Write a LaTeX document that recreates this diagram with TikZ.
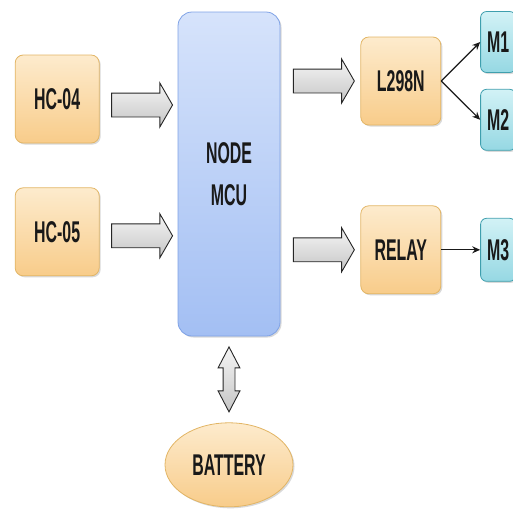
\documentclass[tikz,border=0pt]{standalone}
\usepackage{fontspec}
\setsansfont{Liberation Sans}[FakeStretch=0.53]
\usetikzlibrary{positioning, calc, arrows.meta, shapes.geometric, shapes.arrows, shadows}
\definecolor{NaranjaArriba}{HTML}{FDEBCD}
\definecolor{NaranjaAbajo}{HTML}{F8CC8A}
\definecolor{NaranjaBorde}{HTML}{E2B565}
\definecolor{AzulArriba}{HTML}{D6E3FB}
\definecolor{AzulAbajo}{HTML}{A3BFF3}
\definecolor{AzulBorde}{HTML}{7FA2E6}
\definecolor{CianArriba}{HTML}{D2F2F6}
\definecolor{CianAbajo}{HTML}{96D8E3}
\definecolor{CianBorde}{HTML}{3F9FAE}

\begin{document}
\begin{tikzpicture}[
    >={Stealth[length=8pt, width=7pt]}, % puntas de los conectores finos
    texto/.style={font=\sffamily\bfseries\fontsize{30}{42}\selectfont, text=black!90, align=center},
    sombra/.style={drop shadow={shadow xshift=1.5pt, shadow yshift=-1.5pt, opacity=0.25, fill=black!60}},
    bloque_naranja/.style={texto, sombra, draw=NaranjaBorde, line width=0.8pt, top color=NaranjaArriba, bottom color=NaranjaAbajo, rounded corners=8pt, minimum width=84pt, minimum height=88pt, inner sep=0pt},
    bloque_azul/.style={texto, sombra, draw=AzulBorde, line width=0.8pt, top color=AzulArriba, bottom color=AzulAbajo, rounded corners=14pt, minimum width=102pt, minimum height=324pt, inner sep=0pt},
    bloque_cian/.style={texto, sombra, draw=CianBorde, line width=0.8pt, top color=CianArriba, bottom color=CianAbajo, rounded corners=6pt, minimum width=35pt, minimum height=61pt, inner sep=0pt},
    flecha_gorda/.style={shape=single arrow, draw=black!85, line width=0.9pt, top color=gray!8, bottom color=gray!45, minimum height=61pt, inner xsep=0pt, inner ysep=11.5pt, text height=0pt, text depth=0pt, single arrow head extend=10pt, single arrow tip angle=120},
    flecha_doble/.style={shape=double arrow, rotate=90, draw=black!85, line width=0.9pt, top color=gray!8, bottom color=gray!45, minimum height=65pt, inner xsep=0pt, inner ysep=5.5pt, text height=0pt, text depth=0pt, double arrow head extend=5pt, double arrow tip angle=55},
    conector/.style={->, line width=1.2pt, black!90}
]
    \useasboundingbox (0,0) rectangle (513pt,-512pt);
    \clip (0,0) rectangle (513pt,-512pt);

    % 1. Bloque central
    \node[bloque_azul] (mcu) at (229pt,-174pt) {NODE\\MCU};

    % 2. Sensores a la izquierda
    \node[bloque_naranja, left=78pt of mcu.west, yshift=75pt] (hc04) {HC-04};
    \node[bloque_naranja, below=44pt of hc04] (hc05) {HC-05};

    % 3. Controladores a la derecha
    \node[bloque_naranja, minimum width=80pt, right=80pt of mcu.east, yshift=93pt] (l298n) {L298N};
    \node[bloque_naranja, minimum width=80pt, below=80pt of l298n] (relay) {RELAY};

    % 4. Motores
    \node[bloque_cian, right=39pt of l298n, yshift=39pt] (m1) {M1};
    \node[bloque_cian, below=16pt of m1] (m2) {M2};
    \node[bloque_cian, right=39pt of relay, minimum height=63pt] (m3) {M3};

    % 5. Bateria debajo
    \node[texto, sombra, shape=ellipse, draw=NaranjaBorde, line width=0.8pt, top color=NaranjaArriba, bottom color=NaranjaAbajo, minimum width=128pt, minimum height=84pt, inner sep=0pt, below=86pt of mcu] (bateria) {BATTERY};

    % 6. Flechas gruesas entre bloques
    \path (hc04.east) -- (hc04.east -| mcu.west) node[midway, yshift=-6pt, flecha_gorda] (f1) {};
    \path (hc05.east) -- (hc05.east -| mcu.west) node[midway, yshift=-4pt, flecha_gorda] (f2) {};
    \path (l298n.west -| mcu.east) -- (l298n.west) node[midway, flecha_gorda] (f3) {};
    \path (relay.west -| mcu.east) -- (relay.west) node[midway, flecha_gorda] (f4) {};
    \path (mcu.south) -- (bateria.north) node[midway, flecha_doble] (f5) {};

    % 7. Conectores finos hacia los motores
    \draw[conector] (l298n.east) -- (m1.west);
    \draw[conector] (l298n.east) -- (m2.west);
    \draw[conector] (relay.east) -- (m3.west);

\end{tikzpicture}
\end{document}
